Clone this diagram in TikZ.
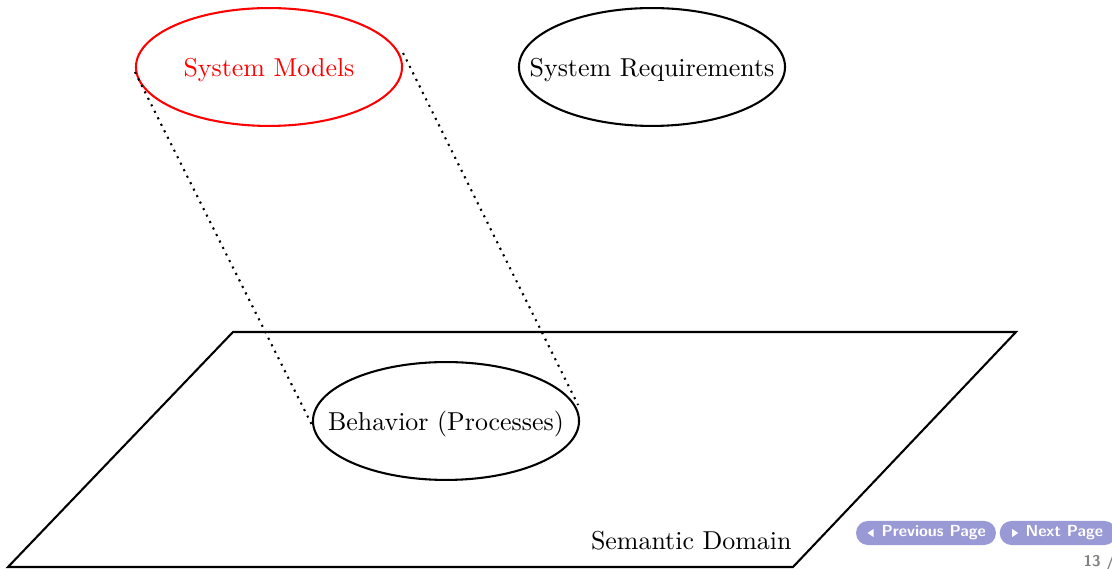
\documentclass[tikz,border=0pt]{standalone}
\usepackage{tikz}
\usetikzlibrary{shapes.geometric,calc}
\definecolor{navbtn}{RGB}{153,153,214}
\definecolor{pagenum}{RGB}{128,128,128}
% centre a label without letting it widen its ellipse
\newcommand{\blobtext}[1]{\raisebox{-3.7pt}[0pt][0pt]{\makebox[0pt]{#1}}}
\tikzset{
  blob/.style={ellipse, draw, thick, minimum width=102.7pt, minimum height=45.5pt, inner sep=0pt, font=\normalsize},
  proj/.style={thick, dotted},
  btn/.style={fill=navbtn, rounded corners=4.6pt, minimum height=9.3pt, inner sep=0pt},
  btntext/.style={text=white, font=\sffamily\bfseries\fontsize{6.2}{7}\selectfont, inner sep=0pt}
}
\begin{document}
\begin{tikzpicture}[x=0.386pt, y=-0.386pt]
\useasboundingbox (0,0) rectangle (1112,569);

% semantic domain plane
\coordinate (p1) at (233,332);
\coordinate (p2) at (1016,332);
\coordinate (p3) at (793,567);
\coordinate (p4) at (8,567);
\draw[thick] (p1) -- (p2) -- (p3) -- (p4) -- cycle;
\node[anchor=east, inner sep=0pt] (dom) at (792,541) {Semantic Domain};

% model and requirement ellipses, and the behaviour they denote
\node[blob, draw=red, text=red] (sm) at (269,67) {\blobtext{System Models}};
\node[blob] (sr) at (652,67) {\blobtext{System Requirements}};
\node[blob] (beh) at (446,421) {\blobtext{Behavior (Processes)}};

% projection lines
\draw[proj] ($(sm.west)+(0,5)$) -- ($(beh.west)+(0,4)$);
\draw[proj] ($(sm.east)+(0,-14)$) -- ($(beh.east)+(-2,-16)$);

% navigation buttons
\node[btn, minimum width=54pt] (prev) at (926,533) {};
\node[btntext, anchor=west] (prevt) at (881,533) {Previous Page};
\fill[white] ($(prev.west)+(12,0)$) -- ($(prev.west)+(18,-4)$) -- ($(prev.west)+(18,4)$) -- cycle;
\node[btn, minimum width=45pt] (next) at (1058,533) {};
\node[btntext, anchor=west] (nextt) at (1025,533) {Next Page};
\fill[white] ($(next.west)+(19,0)$) -- ($(next.west)+(13,-4)$) -- ($(next.west)+(13,4)$) -- cycle;

% page number
\node[anchor=west, inner sep=0pt, text=pagenum, font=\sffamily\bfseries\fontsize{6}{7}\selectfont] (pg) at (1083,563) {13 /};
\end{tikzpicture}
\end{document}
